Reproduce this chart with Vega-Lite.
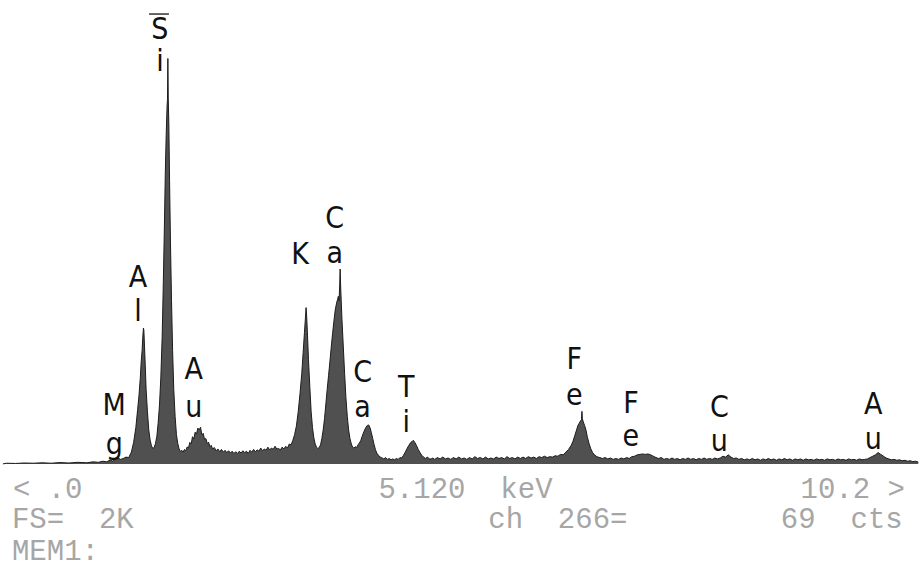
{
  "$schema": "https://vega.github.io/schema/vega-lite/v6.json",
  "width": 921,
  "height": 574,
  "autosize": {"type": "fit", "contains": "padding"},
  "padding": 0,
  "background": "white",
  "config": {"view": {"stroke": null}},
  "datasets": {
    "spectrum": [
      {"keV": -0.09, "cts": 0}, {"keV": -0.05, "cts": 3}, {"keV": 0.05, "cts": 2}, {"keV": 0.15, "cts": 4}, {"keV": 0.25, "cts": 3}, {"keV": 0.35, "cts": 5}, {"keV": 0.45, "cts": 3}, {"keV": 0.55, "cts": 6}, {"keV": 0.65, "cts": 4}, {"keV": 0.75, "cts": 7}, {"keV": 0.85, "cts": 5}, {"keV": 0.92, "cts": 9}, {"keV": 0.98, "cts": 7}, {"keV": 1.03, "cts": 12}, {"keV": 1.07, "cts": 9}, {"keV": 1.11, "cts": 16}, {"keV": 1.14, "cts": 13}, {"keV": 1.17, "cts": 22}, {"keV": 1.2, "cts": 26}, {"keV": 1.23, "cts": 20}, {"keV": 1.26, "cts": 24}, {"keV": 1.29, "cts": 30}, {"keV": 1.32, "cts": 28}, {"keV": 1.35, "cts": 52}, {"keV": 1.375, "cts": 95}, {"keV": 1.4, "cts": 160}, {"keV": 1.42, "cts": 240}, {"keV": 1.435, "cts": 300}, {"keV": 1.45, "cts": 380}, {"keV": 1.46, "cts": 450}, {"keV": 1.47, "cts": 500}, {"keV": 1.478, "cts": 560}, {"keV": 1.485, "cts": 600}, {"keV": 1.49, "cts": 590}, {"keV": 1.497, "cts": 520}, {"keV": 1.505, "cts": 440}, {"keV": 1.515, "cts": 330}, {"keV": 1.53, "cts": 230}, {"keV": 1.545, "cts": 150}, {"keV": 1.56, "cts": 105}, {"keV": 1.575, "cts": 80}, {"keV": 1.59, "cts": 68}, {"keV": 1.605, "cts": 72}, {"keV": 1.62, "cts": 90}, {"keV": 1.635, "cts": 120}, {"keV": 1.65, "cts": 180}, {"keV": 1.665, "cts": 260}, {"keV": 1.68, "cts": 380}, {"keV": 1.695, "cts": 560}, {"keV": 1.708, "cts": 800}, {"keV": 1.72, "cts": 1050}, {"keV": 1.73, "cts": 1280}, {"keV": 1.74, "cts": 1450}, {"keV": 1.75, "cts": 1580}, {"keV": 1.755, "cts": 1610}, {"keV": 1.759, "cts": 1790}, {"keV": 1.763, "cts": 1620}, {"keV": 1.77, "cts": 1500}, {"keV": 1.778, "cts": 1250}, {"keV": 1.788, "cts": 980}, {"keV": 1.8, "cts": 720}, {"keV": 1.812, "cts": 500}, {"keV": 1.825, "cts": 330}, {"keV": 1.84, "cts": 210}, {"keV": 1.855, "cts": 130}, {"keV": 1.87, "cts": 90}, {"keV": 1.885, "cts": 66}, {"keV": 1.9, "cts": 55}, {"keV": 1.915, "cts": 60}, {"keV": 1.93, "cts": 52}, {"keV": 1.945, "cts": 64}, {"keV": 1.96, "cts": 58}, {"keV": 1.975, "cts": 75}, {"keV": 1.99, "cts": 70}, {"keV": 2.005, "cts": 95}, {"keV": 2.02, "cts": 88}, {"keV": 2.035, "cts": 120}, {"keV": 2.05, "cts": 110}, {"keV": 2.065, "cts": 140}, {"keV": 2.08, "cts": 132}, {"keV": 2.095, "cts": 158}, {"keV": 2.11, "cts": 150}, {"keV": 2.125, "cts": 162}, {"keV": 2.14, "cts": 128}, {"keV": 2.155, "cts": 135}, {"keV": 2.17, "cts": 108}, {"keV": 2.185, "cts": 112}, {"keV": 2.2, "cts": 90}, {"keV": 2.215, "cts": 96}, {"keV": 2.23, "cts": 76}, {"keV": 2.245, "cts": 82}, {"keV": 2.26, "cts": 66}, {"keV": 2.28, "cts": 72}, {"keV": 2.3, "cts": 58}, {"keV": 2.32, "cts": 66}, {"keV": 2.34, "cts": 54}, {"keV": 2.36, "cts": 64}, {"keV": 2.38, "cts": 52}, {"keV": 2.4, "cts": 60}, {"keV": 2.42, "cts": 50}, {"keV": 2.44, "cts": 58}, {"keV": 2.46, "cts": 48}, {"keV": 2.48, "cts": 56}, {"keV": 2.5, "cts": 46}, {"keV": 2.52, "cts": 54}, {"keV": 2.54, "cts": 46}, {"keV": 2.56, "cts": 56}, {"keV": 2.58, "cts": 48}, {"keV": 2.6, "cts": 58}, {"keV": 2.62, "cts": 50}, {"keV": 2.64, "cts": 56}, {"keV": 2.66, "cts": 46}, {"keV": 2.68, "cts": 60}, {"keV": 2.7, "cts": 52}, {"keV": 2.72, "cts": 64}, {"keV": 2.74, "cts": 54}, {"keV": 2.76, "cts": 62}, {"keV": 2.78, "cts": 56}, {"keV": 2.8, "cts": 70}, {"keV": 2.82, "cts": 58}, {"keV": 2.84, "cts": 66}, {"keV": 2.86, "cts": 60}, {"keV": 2.88, "cts": 74}, {"keV": 2.9, "cts": 62}, {"keV": 2.92, "cts": 70}, {"keV": 2.94, "cts": 64}, {"keV": 2.96, "cts": 78}, {"keV": 2.98, "cts": 66},
      {"keV": 3.0, "cts": 68}, {"keV": 3.02, "cts": 62}, {"keV": 3.04, "cts": 74}, {"keV": 3.06, "cts": 66}, {"keV": 3.08, "cts": 78}, {"keV": 3.1, "cts": 70}, {"keV": 3.12, "cts": 88}, {"keV": 3.14, "cts": 84}, {"keV": 3.16, "cts": 104}, {"keV": 3.18, "cts": 130}, {"keV": 3.2, "cts": 168}, {"keV": 3.22, "cts": 230}, {"keV": 3.24, "cts": 310}, {"keV": 3.26, "cts": 400}, {"keV": 3.275, "cts": 490}, {"keV": 3.29, "cts": 580}, {"keV": 3.3, "cts": 640}, {"keV": 3.308, "cts": 690}, {"keV": 3.315, "cts": 650}, {"keV": 3.325, "cts": 560}, {"keV": 3.335, "cts": 460}, {"keV": 3.35, "cts": 340}, {"keV": 3.365, "cts": 230}, {"keV": 3.38, "cts": 160}, {"keV": 3.395, "cts": 115}, {"keV": 3.41, "cts": 88}, {"keV": 3.425, "cts": 74}, {"keV": 3.44, "cts": 68}, {"keV": 3.455, "cts": 72}, {"keV": 3.47, "cts": 84}, {"keV": 3.485, "cts": 112}, {"keV": 3.5, "cts": 150}, {"keV": 3.515, "cts": 200}, {"keV": 3.53, "cts": 265}, {"keV": 3.545, "cts": 330}, {"keV": 3.56, "cts": 390}, {"keV": 3.575, "cts": 450}, {"keV": 3.59, "cts": 515}, {"keV": 3.605, "cts": 575}, {"keV": 3.62, "cts": 630}, {"keV": 3.635, "cts": 680}, {"keV": 3.65, "cts": 710}, {"keV": 3.66, "cts": 725}, {"keV": 3.67, "cts": 740}, {"keV": 3.678, "cts": 720}, {"keV": 3.685, "cts": 790}, {"keV": 3.69, "cts": 860}, {"keV": 3.695, "cts": 790}, {"keV": 3.702, "cts": 720}, {"keV": 3.71, "cts": 640}, {"keV": 3.725, "cts": 520}, {"keV": 3.74, "cts": 400}, {"keV": 3.755, "cts": 290}, {"keV": 3.77, "cts": 210}, {"keV": 3.785, "cts": 150}, {"keV": 3.8, "cts": 112}, {"keV": 3.815, "cts": 88}, {"keV": 3.83, "cts": 74}, {"keV": 3.845, "cts": 70}, {"keV": 3.86, "cts": 76}, {"keV": 3.875, "cts": 72}, {"keV": 3.89, "cts": 84}, {"keV": 3.905, "cts": 92}, {"keV": 3.92, "cts": 102}, {"keV": 3.935, "cts": 120}, {"keV": 3.95, "cts": 136}, {"keV": 3.965, "cts": 150}, {"keV": 3.98, "cts": 162}, {"keV": 3.995, "cts": 170}, {"keV": 4.01, "cts": 172}, {"keV": 4.025, "cts": 160}, {"keV": 4.04, "cts": 138}, {"keV": 4.055, "cts": 112}, {"keV": 4.07, "cts": 86}, {"keV": 4.085, "cts": 64}, {"keV": 4.1, "cts": 48}, {"keV": 4.12, "cts": 38}, {"keV": 4.14, "cts": 30}, {"keV": 4.16, "cts": 26}, {"keV": 4.18, "cts": 22}, {"keV": 4.2, "cts": 28}, {"keV": 4.22, "cts": 20}, {"keV": 4.24, "cts": 24}, {"keV": 4.26, "cts": 18}, {"keV": 4.28, "cts": 22}, {"keV": 4.3, "cts": 18}, {"keV": 4.32, "cts": 24}, {"keV": 4.34, "cts": 20}, {"keV": 4.36, "cts": 28}, {"keV": 4.38, "cts": 26}, {"keV": 4.4, "cts": 38}, {"keV": 4.42, "cts": 52}, {"keV": 4.44, "cts": 68}, {"keV": 4.46, "cts": 82}, {"keV": 4.48, "cts": 94}, {"keV": 4.5, "cts": 100}, {"keV": 4.51, "cts": 104}, {"keV": 4.525, "cts": 96}, {"keV": 4.545, "cts": 82}, {"keV": 4.565, "cts": 64}, {"keV": 4.585, "cts": 50}, {"keV": 4.605, "cts": 38}, {"keV": 4.625, "cts": 30}, {"keV": 4.645, "cts": 24}, {"keV": 4.67, "cts": 30}, {"keV": 4.69, "cts": 22},
      {"keV": 4.71, "cts": 22}, {"keV": 4.73, "cts": 26}, {"keV": 4.75, "cts": 20}, {"keV": 4.78, "cts": 28}, {"keV": 4.81, "cts": 22}, {"keV": 4.84, "cts": 30}, {"keV": 4.87, "cts": 22}, {"keV": 4.9, "cts": 26}, {"keV": 4.93, "cts": 20}, {"keV": 4.96, "cts": 28}, {"keV": 4.99, "cts": 22}, {"keV": 5.02, "cts": 30}, {"keV": 5.05, "cts": 22}, {"keV": 5.08, "cts": 26}, {"keV": 5.11, "cts": 20}, {"keV": 5.14, "cts": 28}, {"keV": 5.17, "cts": 22}, {"keV": 5.2, "cts": 32}, {"keV": 5.23, "cts": 24}, {"keV": 5.26, "cts": 28}, {"keV": 5.29, "cts": 22}, {"keV": 5.32, "cts": 30}, {"keV": 5.35, "cts": 22}, {"keV": 5.38, "cts": 26}, {"keV": 5.41, "cts": 22}, {"keV": 5.44, "cts": 30}, {"keV": 5.47, "cts": 24}, {"keV": 5.5, "cts": 28}, {"keV": 5.53, "cts": 22}, {"keV": 5.56, "cts": 32}, {"keV": 5.59, "cts": 24}, {"keV": 5.62, "cts": 28}, {"keV": 5.65, "cts": 22}, {"keV": 5.68, "cts": 30}, {"keV": 5.71, "cts": 24}, {"keV": 5.74, "cts": 30}, {"keV": 5.77, "cts": 24}, {"keV": 5.8, "cts": 32}, {"keV": 5.83, "cts": 26}, {"keV": 5.86, "cts": 30}, {"keV": 5.89, "cts": 24}, {"keV": 5.92, "cts": 32}, {"keV": 5.95, "cts": 28}, {"keV": 5.98, "cts": 34}, {"keV": 6.01, "cts": 28}, {"keV": 6.04, "cts": 32}, {"keV": 6.07, "cts": 30}, {"keV": 6.1, "cts": 36}, {"keV": 6.13, "cts": 34}, {"keV": 6.16, "cts": 42}, {"keV": 6.19, "cts": 40}, {"keV": 6.22, "cts": 52}, {"keV": 6.25, "cts": 64}, {"keV": 6.28, "cts": 82}, {"keV": 6.3, "cts": 100}, {"keV": 6.32, "cts": 125}, {"keV": 6.34, "cts": 150}, {"keV": 6.355, "cts": 170}, {"keV": 6.37, "cts": 180}, {"keV": 6.385, "cts": 190}, {"keV": 6.395, "cts": 196}, {"keV": 6.4, "cts": 232}, {"keV": 6.405, "cts": 200}, {"keV": 6.415, "cts": 185}, {"keV": 6.43, "cts": 170}, {"keV": 6.445, "cts": 150}, {"keV": 6.46, "cts": 120}, {"keV": 6.48, "cts": 90}, {"keV": 6.5, "cts": 66}, {"keV": 6.52, "cts": 50}, {"keV": 6.54, "cts": 40}, {"keV": 6.56, "cts": 34}, {"keV": 6.58, "cts": 30}, {"keV": 6.6, "cts": 28}, {"keV": 6.63, "cts": 24}, {"keV": 6.66, "cts": 28}, {"keV": 6.69, "cts": 22}, {"keV": 6.72, "cts": 26}, {"keV": 6.75, "cts": 20}, {"keV": 6.78, "cts": 24}, {"keV": 6.81, "cts": 20}, {"keV": 6.84, "cts": 26}, {"keV": 6.87, "cts": 22}, {"keV": 6.9, "cts": 28}, {"keV": 6.93, "cts": 24}, {"keV": 6.96, "cts": 32}, {"keV": 6.99, "cts": 34}, {"keV": 7.02, "cts": 40}, {"keV": 7.05, "cts": 42}, {"keV": 7.08, "cts": 44}, {"keV": 7.11, "cts": 42}, {"keV": 7.14, "cts": 44}, {"keV": 7.17, "cts": 40}, {"keV": 7.2, "cts": 34}, {"keV": 7.23, "cts": 28}, {"keV": 7.26, "cts": 24}, {"keV": 7.29, "cts": 28}, {"keV": 7.32, "cts": 20}, {"keV": 7.35, "cts": 24}, {"keV": 7.38, "cts": 20}, {"keV": 7.41, "cts": 26}, {"keV": 7.44, "cts": 20}, {"keV": 7.47, "cts": 24}, {"keV": 7.5, "cts": 18}, {"keV": 7.53, "cts": 24}, {"keV": 7.56, "cts": 20}, {"keV": 7.59, "cts": 26}, {"keV": 7.62, "cts": 20}, {"keV": 7.65, "cts": 24}, {"keV": 7.68, "cts": 18}, {"keV": 7.71, "cts": 24}, {"keV": 7.74, "cts": 20}, {"keV": 7.77, "cts": 26}, {"keV": 7.8, "cts": 20}, {"keV": 7.83, "cts": 24}, {"keV": 7.86, "cts": 20}, {"keV": 7.89, "cts": 26}, {"keV": 7.92, "cts": 22}, {"keV": 7.95, "cts": 26}, {"keV": 7.98, "cts": 34}, {"keV": 8.01, "cts": 30}, {"keV": 8.04, "cts": 40}, {"keV": 8.07, "cts": 30}, {"keV": 8.1, "cts": 24}, {"keV": 8.13, "cts": 26}, {"keV": 8.16, "cts": 20}, {"keV": 8.19, "cts": 24}, {"keV": 8.22, "cts": 18}, {"keV": 8.25, "cts": 22}, {"keV": 8.28, "cts": 18}, {"keV": 8.31, "cts": 24}, {"keV": 8.34, "cts": 18}, {"keV": 8.37, "cts": 22}, {"keV": 8.4, "cts": 16}, {"keV": 8.43, "cts": 22}, {"keV": 8.46, "cts": 18}, {"keV": 8.49, "cts": 24}, {"keV": 8.52, "cts": 18}, {"keV": 8.55, "cts": 22}, {"keV": 8.58, "cts": 16}, {"keV": 8.61, "cts": 22}, {"keV": 8.64, "cts": 18}, {"keV": 8.67, "cts": 24}, {"keV": 8.7, "cts": 18}, {"keV": 8.73, "cts": 22}, {"keV": 8.76, "cts": 16}, {"keV": 8.79, "cts": 22}, {"keV": 8.82, "cts": 18}, {"keV": 8.85, "cts": 22}, {"keV": 8.88, "cts": 16}, {"keV": 8.91, "cts": 22}, {"keV": 8.94, "cts": 18}, {"keV": 8.97, "cts": 20}, {"keV": 9.0, "cts": 16}, {"keV": 9.03, "cts": 22}, {"keV": 9.06, "cts": 18}, {"keV": 9.09, "cts": 20}, {"keV": 9.12, "cts": 16}, {"keV": 9.15, "cts": 22}, {"keV": 9.18, "cts": 18}, {"keV": 9.21, "cts": 20}, {"keV": 9.24, "cts": 16}, {"keV": 9.27, "cts": 22}, {"keV": 9.3, "cts": 18}, {"keV": 9.33, "cts": 20}, {"keV": 9.36, "cts": 16}, {"keV": 9.39, "cts": 22}, {"keV": 9.42, "cts": 18}, {"keV": 9.45, "cts": 20}, {"keV": 9.48, "cts": 16}, {"keV": 9.51, "cts": 22}, {"keV": 9.54, "cts": 18}, {"keV": 9.57, "cts": 20}, {"keV": 9.6, "cts": 22}, {"keV": 9.63, "cts": 28}, {"keV": 9.66, "cts": 34}, {"keV": 9.69, "cts": 40}, {"keV": 9.72, "cts": 50}, {"keV": 9.75, "cts": 42}, {"keV": 9.78, "cts": 34}, {"keV": 9.81, "cts": 26}, {"keV": 9.84, "cts": 22}, {"keV": 9.87, "cts": 18}, {"keV": 9.9, "cts": 20}, {"keV": 9.93, "cts": 16}, {"keV": 9.96, "cts": 18}, {"keV": 9.99, "cts": 14}, {"keV": 10.02, "cts": 16}, {"keV": 10.05, "cts": 12}, {"keV": 10.08, "cts": 14}, {"keV": 10.11, "cts": 10}, {"keV": 10.14, "cts": 12}, {"keV": 10.17, "cts": 8}
    ],
    "labels": [
      {"ch": "S", "keV": 1.67, "cts": 1916}, {"ch": "i", "keV": 1.67, "cts": 1774},
      {"ch": "A", "keV": 1.425, "cts": 821}, {"ch": "l", "keV": 1.425, "cts": 671},
      {"ch": "M", "keV": 1.158, "cts": 256}, {"ch": "g", "keV": 1.158, "cts": 84},
      {"ch": "A", "keV": 2.049, "cts": 415}, {"ch": "u", "keV": 2.049, "cts": 247},
      {"ch": "K", "keV": 3.241, "cts": 923},
      {"ch": "C", "keV": 3.63, "cts": 1081}, {"ch": "a", "keV": 3.63, "cts": 927},
      {"ch": "C", "keV": 3.942, "cts": 402}, {"ch": "a", "keV": 3.942, "cts": 247},
      {"ch": "T", "keV": 4.432, "cts": 335}, {"ch": "i", "keV": 4.432, "cts": 181},
      {"ch": "F", "keV": 6.314, "cts": 459}, {"ch": "e", "keV": 6.314, "cts": 300},
      {"ch": "F", "keV": 6.949, "cts": 265}, {"ch": "e", "keV": 6.949, "cts": 119},
      {"ch": "C", "keV": 7.94, "cts": 247}, {"ch": "u", "keV": 7.94, "cts": 97},
      {"ch": "A", "keV": 9.666, "cts": 260}, {"ch": "u", "keV": 9.666, "cts": 106}
    ],
    "overline": [{"keV": 1.548, "keV2": 1.771, "cts": 1986}],
    "info": [
      {"txt": "< .0", "keV": 0.022, "cts": -110},
      {"txt": "5.120\u00a0\u00a0keV", "keV": 4.12, "cts": -110},
      {"txt": "10.2 >", "keV": 8.85, "cts": -110},
      {"txt": "FS=\u00a0\u00a02K", "keV": 0.011, "cts": -243},
      {"txt": "ch\u00a0\u00a0266=", "keV": 5.35, "cts": -243},
      {"txt": "69\u00a0\u00a0cts", "keV": 8.63, "cts": -243},
      {"txt": "MEM1:", "keV": 0.011, "cts": -385}
    ]
  },
  "layer": [
    {
      "data": {"name": "spectrum"},
      "mark": {"type": "area", "color": "#505050", "opacity": 1, "interpolate": "linear", "line": {"color": "#1c1c1c", "strokeWidth": 1}},
      "encoding": {
        "x": {"field": "keV", "type": "quantitative", "scale": {"domain": [-0.089, 10.167], "nice": false, "zero": false}, "axis": null},
        "y": {"field": "cts", "type": "quantitative", "scale": {"domain": [-486, 2048], "nice": false}, "axis": null}
      }
    },
    {
      "mark": {"type": "rule", "color": "#3a3a3a", "strokeWidth": 2},
      "encoding": {
        "y": {"datum": 0, "type": "quantitative", "scale": {"domain": [-486, 2048], "nice": false}}
      }
    },
    {
      "data": {"name": "overline"},
      "mark": {"type": "rule", "color": "#333333", "strokeWidth": 1.5},
      "encoding": {
        "x": {"field": "keV", "type": "quantitative"},
        "x2": {"field": "keV2"},
        "y": {"field": "cts", "type": "quantitative"}
      }
    },
    {
      "data": {"name": "labels"},
      "mark": {"type": "text", "font": "Liberation Sans Narrow, DejaVu Sans Condensed, Liberation Sans", "fontSize": 30, "color": "#111111", "align": "center", "baseline": "middle"},
      "encoding": {
        "x": {"field": "keV", "type": "quantitative"},
        "y": {"field": "cts", "type": "quantitative"},
        "text": {"field": "ch"}
      }
    },
    {
      "data": {"name": "info"},
      "mark": {"type": "text", "font": "Liberation Mono", "fontSize": 29, "color": "#a6a6a6", "align": "left", "baseline": "middle"},
      "encoding": {
        "x": {"field": "keV", "type": "quantitative"},
        "y": {"field": "cts", "type": "quantitative"},
        "text": {"field": "txt"}
      }
    }
  ]
}
